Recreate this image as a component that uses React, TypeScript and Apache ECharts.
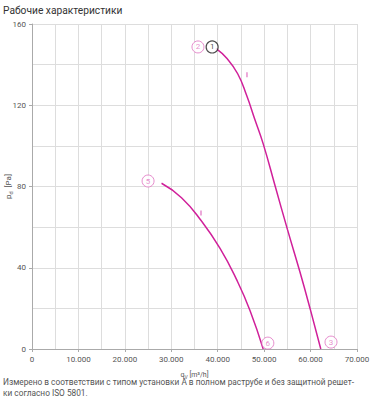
import React, { useEffect, useRef } from "react";
import * as echarts from "echarts";

const curve1: [number, number][] = [
  [39600, 148], [42000, 143], [44300, 135.5], [46200, 125], [48000, 113],
  [49800, 101], [52400, 80], [55000, 59], [57700, 38], [60000, 19], [62200, 0],
];
const curve2: [number, number][] = [
  [27900, 81.6], [32200, 74.5], [36500, 63], [40500, 49.5], [44100, 34],
  [46950, 19], [49800, 0],
];
const pinkLabels: [number, number, string][] = [
  [35750, 148.7, "2"], [25000, 82.7, "5"], [50800, 2.9, "6"], [64400, 3.4, "3"],
];
const blackLabels: [number, number, string][] = [[38800, 148.7, "1"]];
const ticksMarks: [number, number][] = [[46300, 135], [36400, 67]];
const titleText = "Рабочие характеристики";
const footLines = [
  "Измерено в соответствии с типом установки А в полном раструбе и без защитной решет-",
  "ки согласно ISO 5801.",
];

const MAG = "#d0209a";
const MAG_LIGHT = "#e070c0";

export default function App() {
  const ref = useRef<HTMLDivElement>(null);
  useEffect(() => {
    if (!ref.current) return;
    const chart = echarts.init(ref.current, undefined, { renderer: "svg" });
    const fmt = (v: number) => {
      if (v === 0) return "0";
      const s = String(v);
      return s.slice(0, s.length - 3) + "." + s.slice(s.length - 3);
    };
    chart.setOption({
      animation: false,
      textStyle: { fontFamily: "Roboto, Liberation Sans, sans-serif" },
      grid: {
        left: 32, right: 20, top: 24, bottom: 54,
        containLabel: false, outerBoundsMode: "none",
      },
      graphic: [
        {
          type: "text", x: 3, y: 5, scaleX: 0.93,
          style: { text: titleText, fontSize: 11, fill: "#333", fontFamily: "Roboto" },
        },
        ...footLines.map((t, i) => ({
          type: "text", x: 3, y: 377 + i * 11, scaleX: 0.875,
          style: { text: t, fontSize: 9.5, fill: "#555", fontFamily: "Roboto" },
        })),
      ],
      xAxis: {
        type: "value", min: 0, max: 70000, interval: 10000,
        name: "q{sub|V} [m³/h]", nameLocation: "middle", nameGap: 21,
        nameMoveOverlap: false,
        nameTextStyle: {
          fontSize: 7, color: "#555",
          rich: { sub: { fontSize: 5, color: "#555", padding: [4, 0, 0, 0] } },
        },
        axisLine: { lineStyle: { color: "#aaa" } },
        axisTick: { show: true, length: 3, lineStyle: { color: "#aaa" } },
        axisLabel: { fontSize: 8, color: "#555", formatter: fmt, margin: 6 },
        splitLine: { show: true, lineStyle: { color: "#ddd" } },
        minorTick: { show: false, splitNumber: 2 },
        minorSplitLine: { show: true, lineStyle: { color: "#ddd" } },
      },
      yAxis: {
        type: "value", min: 0, max: 160, interval: 40,
        name: "p{sub|d}  [Pa]", nameLocation: "middle", nameGap: 18, nameRotate: 90,
        nameMoveOverlap: false,
        nameTextStyle: {
          fontSize: 8, color: "#555",
          rich: { sub: { fontSize: 5.5, color: "#555", padding: [5, 0, 0, 0] } },
        },
        axisLine: { show: true, lineStyle: { color: "#aaa" } },
        axisTick: { show: true, length: 3, lineStyle: { color: "#aaa" } },
        axisLabel: { fontSize: 8, color: "#555", margin: 6 },
        splitLine: { show: true, lineStyle: { color: "#ddd" } },
        minorTick: { show: false, splitNumber: 2 },
        minorSplitLine: { show: true, lineStyle: { color: "#ddd" } },
      },
      series: [
        {
          type: "line", data: curve1, smooth: 0.5, showSymbol: false,
          lineStyle: { color: MAG, width: 1.5 }, silent: true,
        },
        {
          type: "line", data: curve2, smooth: 0.5, showSymbol: false,
          lineStyle: { color: MAG, width: 1.5 }, silent: true,
        },
        {
          type: "scatter", data: pinkLabels.map((d) => [d[0], d[1], d[2]]),
          symbol: "circle", symbolSize: 12,
          itemStyle: { color: "#fff", borderColor: MAG_LIGHT, borderWidth: 1 },
          label: {
            show: true, position: "inside", fontSize: 8, color: MAG_LIGHT,
            formatter: (p: any) => p.value[2],
          },
          z: 5,
        },
        {
          type: "scatter", data: blackLabels.map((d) => [d[0], d[1], d[2]]),
          symbol: "circle", symbolSize: 12,
          itemStyle: { color: "#fff", borderColor: "#222", borderWidth: 1.2 },
          label: {
            show: true, position: "inside", fontSize: 8, color: "#222",
            formatter: (p: any) => p.value[2],
          },
          z: 5,
        },
        {
          type: "scatter", data: ticksMarks, symbol: "rect", symbolSize: [1.5, 5],
          itemStyle: { color: MAG_LIGHT },
        },
      ],
    });
    return () => chart.dispose();
  }, []);
  return (
    <div
      ref={ref}
      style={{ position: "absolute", left: 0, top: 0, width: 377, height: 403 }}
    />
  );
}
